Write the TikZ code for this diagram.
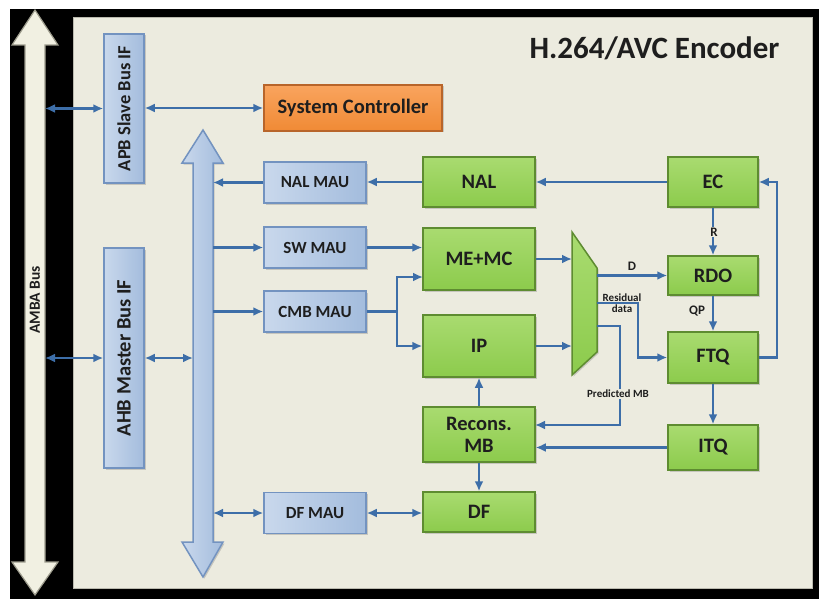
\documentclass[tikz,border=0pt]{standalone}
\usepackage{fontspec}
\setmainfont{Carlito}
\usetikzlibrary{arrows.meta,shadows}
\definecolor{panel}{HTML}{ECEBDF}
\definecolor{bluelight}{HTML}{C9D8EC}
\definecolor{bluedark}{HTML}{A3BCDD}
\definecolor{blueedge}{HTML}{7393C0}
\definecolor{greenlight}{HTML}{A9DB70}
\definecolor{greendark}{HTML}{8CCB4C}
\definecolor{greenedge}{HTML}{5E8C31}
\definecolor{orangelight}{HTML}{F9A45E}
\definecolor{orangedark}{HTML}{F08A35}
\definecolor{orangeedge}{HTML}{B8652A}
\definecolor{linecol}{HTML}{3D6EA8}
\definecolor{txt}{HTML}{1E1E1E}
\definecolor{ambafill}{HTML}{F1F0E2}
\definecolor{ambaedge}{HTML}{9C9B8C}
\begin{document}
\begin{tikzpicture}[x=1pt,y=-1pt,
  shadowed/.style={drop shadow={shadow xshift=1.5pt,shadow yshift=-1.5pt,opacity=0.35}},
  bluebox/.style={draw=blueedge,line width=1.5pt,left color=bluelight,right color=bluedark,
     inner sep=0pt,text=txt,shadowed},
  mau/.style={bluebox,minimum width=102pt,minimum height=41pt,font=\fontsize{17}{20}\selectfont\bfseries},
  ifbox/.style={bluebox,minimum width=40pt},
  greenbox/.style={draw=greenedge,line width=1.5pt,top color=greenlight,bottom color=greendark,
     inner sep=0pt,text=txt,shadowed,font=\fontsize{20.5}{23}\selectfont\bfseries,align=center},
  gwide/.style={greenbox,minimum width=112pt},
  gnarrow/.style={greenbox,minimum width=90pt},
  link/.style={draw=linecol,line width=2.4pt},
  arr/.style={link,-{Latex[length=10pt,width=9pt]}},
  biarr/.style={link,{Latex[length=10pt,width=9pt]}-{Latex[length=10pt,width=9pt]}},
  lbl/.style={text=txt,font=\fontsize{13}{15}\selectfont\bfseries,inner sep=1pt},
  slbl/.style={text=txt,font=\fontsize{11}{13}\selectfont\bfseries,inner sep=1pt,align=center}]
\useasboundingbox (0,0) rectangle (819,599);
% background
\fill[black] (10,9) rectangle (819,599);
\fill[panel] (73,18) rectangle (812,588);
\draw[ambaedge!70,line width=1pt] (73,18) rectangle (812,588);
% AMBA bus arrow
\draw[fill=ambafill,draw=ambaedge,line width=1.2pt]
  (35,10) -- (58,45) -- (45,45) -- (45,562) -- (58,562) -- (35,595) -- (12,562) -- (25,562)
  -- (25,45) -- (12,45) -- cycle;
\node[rotate=90,text=txt,font=\fontsize{15.5}{18}\selectfont\bfseries] (ambalbl) at (35,300) {AMBA Bus};
\coordinate (ambaR) at (45,0);
% internal bus arrow
\draw[left color=bluelight,right color=bluedark,draw=blueedge,line width=1.5pt,shadowed]
  (203,130) -- (223,163) -- (213,163) -- (213,542) -- (223,542) -- (203,577) -- (182,542)
  -- (193,542) -- (193,163) -- (182,163) -- cycle;
\coordinate (busL) at (193,0);
\coordinate (busR) at (213,0);
% title
\node[anchor=east,text=txt,font=\fontsize{31}{36}\selectfont\bfseries] (title) at (783,48) {H.264/AVC Encoder};
% interface boxes
\node[ifbox,minimum height=149pt] (apb) at (124,108.5) {};
\node[rotate=90,text=txt,font=\fontsize{18.5}{22}\selectfont\bfseries] (apbt) at (apb.center) {APB Slave Bus IF};
\node[ifbox,minimum height=220pt] (ahb) at (124,358) {};
\node[rotate=90,text=txt,font=\fontsize{20.5}{24}\selectfont\bfseries] (ahbt) at (ahb.center) {AHB Master Bus IF};
\node[draw=orangeedge,line width=1.5pt,top color=orangelight,bottom color=orangedark,
  minimum width=178pt,minimum height=46pt,inner sep=0pt,text=txt,shadowed,
  font=\fontsize{20.5}{24}\selectfont\bfseries] (sys) at (353,108) {System Controller};
% MAUs
\node[mau] (nalmau) at (315,182.5) {NAL MAU};
\node[mau] (swmau) at (315,247.5) {SW MAU};
\node[mau] (cmbmau) at (315,311.5) {CMB MAU};
\node[mau] (dfmau) at (315,513) {DF MAU};
% green blocks
\node[gwide,minimum height=50pt] (nal) at (479,182) {NAL};
\node[gwide,minimum height=62pt] (memc) at (479,259) {ME+MC};
\node[gwide,minimum height=62pt] (ip) at (479,346) {IP};
\node[gwide,minimum height=55pt] (recons) at (479,434.5) {Recons.\\[-1pt]MB};
\node[gwide,minimum height=40pt] (df) at (479,512) {DF};
\node[gnarrow,minimum height=50pt] (ec) at (713,182) {EC};
\node[gnarrow,minimum height=39pt] (rdo) at (713,275.5) {RDO};
\node[gnarrow,minimum height=51pt] (ftq) at (713,357.5) {FTQ};
\node[gnarrow,minimum height=45pt] (itq) at (713,447.5) {ITQ};
% mux
\draw[draw=greenedge,line width=1.5pt,top color=greenlight,bottom color=greendark,shadowed]
  (572,232) -- (597,268) -- (597,352) -- (572,375) -- cycle;
\coordinate (muxL) at (572,0);
\coordinate (muxR) at (597,0);
\coordinate (muxRes) at (597,303);
\coordinate (muxP) at (597,326);
\coordinate (resTurn) at (638,303);
\coordinate (predTurn) at (620,326);
\coordinate (predIn) at (535,425);
\coordinate (cmbsplit) at (397,311.5);
\coordinate (meIn2) at (423,277);
\coordinate (fb) at (777,0);
% connectors
\draw[biarr] (ambaR |- apb.west) -- (apb.west);
\draw[biarr] (apb.east |- sys.west) -- (sys.west);
\draw[biarr] (ambaR |- ahb.west) -- (ahb.west);
\draw[biarr] (ahb.east) -- (busL |- ahb.east);
\draw[arr] (nalmau.west) -- (busR |- nalmau.west);
\draw[arr] (nal.west) -- (nal.west -| nalmau.east);
\draw[arr] (ec.west) -- (nal.east);
\draw[arr] (busR |- swmau.west) -- (swmau.west);
\draw[arr] (swmau.east) -- (swmau.east -| memc.west);
\draw[arr] (busR |- cmbmau.west) -- (cmbmau.west);
\draw[link] (cmbmau.east) -- (cmbsplit);
\draw[arr] (cmbsplit) |- (meIn2);
\draw[arr] (cmbsplit) |- (ip.west);
\draw[arr] (memc.east) -- (memc.east -| muxL);
\draw[arr] (ip.east) -- (ip.east -| muxL);
\draw[arr] (muxR |- rdo.west) -- (rdo.west);
\draw[arr] (muxRes) -- (resTurn) |- (ftq.west);
\draw[arr] (muxP) -- (predTurn) |- (predIn);
\draw[arr] (itq.west) -- (itq.west -| recons.east);
\draw[arr] (ec.south) -- (rdo.north);
\draw[arr] (rdo.south) -- (ftq.north);
\draw[arr] (ftq.south) -- (itq.north);
\draw[arr] (ftq.east) -- (ftq.east -| fb) |- (ec.east);
\draw[arr] (recons.north) -- (ip.south);
\draw[arr] (recons.south) -- (df.north);
\draw[biarr] (busR |- dfmau.west) -- (dfmau.west);
\draw[biarr] (dfmau.east) -- (dfmau.east -| df.west);
% labels
\node[lbl] (dlbl) at (632,266) {D};
\node[lbl,fill=panel] (rlbl) at (714,232) {R};
\node[lbl] (qplbl) at (697,311) {QP};
\node[slbl] (reslbl) at (622,303) {Residual\\[-2pt]data};
\node[slbl,fill=panel] (predlbl) at (618,394) {Predicted MB};
\end{tikzpicture}
\end{document}
